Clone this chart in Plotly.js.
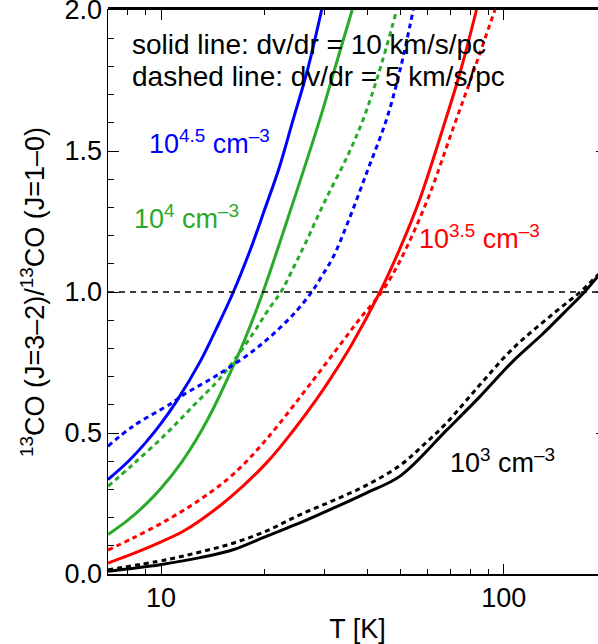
<!DOCTYPE html>
<html>
<head>
<meta charset="utf-8">
<script src="https://cdn.plot.ly/plotly-3.0.1.min.js"></script>
<style>
html,body{margin:0;padding:0;overflow:hidden;background:#fff;}
#chart{width:620px;height:644px;}
</style>
</head>
<body>
<div id="chart"></div>
<script>
// ---- data ----
// n = 10^4.5 cm^-3
const T_b10 = [7, 8, 9, 10, 11.1, 13, 14.5, 16.25, 18.2, 20.1, 22.1, 24.2, 26.7, 29.4];
const V_b10 = [0.335, 0.398, 0.465, 0.534, 0.613, 0.753, 0.87, 1.0, 1.149, 1.296, 1.44, 1.605, 1.784, 2.0];
const T_b5  = [7, 8.3, 10.7, 11.6, 13.9, 15.7, 18.5, 21.2, 24.5, 27.5, 29.5, 31.8, 35.2, 40, 45.5, 50, 54.4];
const V_b5  = [0.453, 0.525, 0.605, 0.635, 0.69, 0.73, 0.79, 0.85, 0.925, 1.0, 1.058, 1.125, 1.252, 1.43, 1.613, 1.796, 2.0];
// n = 10^4 cm^-3
const T_g10 = [7, 8, 9, 10, 11.5, 13, 14.3, 15.7, 17.5, 19.7, 24, 29.1, 32.5, 36.1];
const V_g10 = [0.14, 0.191, 0.246, 0.304, 0.398, 0.50, 0.594, 0.698, 0.828, 0.99, 1.30, 1.615, 1.813, 2.0];
const T_g5  = [7, 8.3, 10.4, 12.5, 14.5, 15.7, 18.6, 20.5, 22.5, 24.3, 26.3, 30, 35.2, 38.9, 43, 48.7];
const V_g5  = [0.311, 0.39, 0.5, 0.6, 0.68, 0.73, 0.855, 0.935, 1.005, 1.085, 1.17, 1.32, 1.489, 1.613, 1.77, 2.0];
// n = 10^3.5 cm^-3
const T_r10 = [7, 8, 9, 10, 11.5, 13, 16, 20.3, 24, 28.4, 31.1, 36, 43.5, 50, 56.9, 66.4, 75, 83.2];
const V_r10 = [0.039, 0.065, 0.09, 0.114, 0.149, 0.19, 0.274, 0.394, 0.50, 0.619, 0.69, 0.814, 1.0, 1.16, 1.33, 1.58, 1.79, 2.0];
const T_r5  = [7, 8.3, 10.4, 13, 16.25, 20.3, 27.8, 33, 38, 44, 50, 60, 71.1, 82, 94.2];
const V_r5  = [0.085, 0.128, 0.191, 0.264, 0.354, 0.478, 0.688, 0.807, 0.905, 1.0, 1.115, 1.33, 1.58, 1.79, 2.0];
// n = 10^3 cm^-3
const T_k10 = [7, 9.93, 13, 16.3, 20.5, 25.4, 32, 39.8, 49.8, 68.1, 85, 106.4, 130, 150, 172, 188, 200];
const V_k10 = [0.01, 0.033, 0.058, 0.087, 0.136, 0.181, 0.235, 0.288, 0.347, 0.51, 0.628, 0.755, 0.852, 0.927, 1.0, 1.055, 1.09];
const T_k5  = [7, 10.4, 13, 16.3, 20.5, 25.4, 32, 39.8, 49.8, 58, 68.1, 85, 106.4, 140, 170, 186, 200];
const V_k5  = [0.015, 0.051, 0.078, 0.11, 0.155, 0.21, 0.262, 0.315, 0.385, 0.455, 0.536, 0.67, 0.80, 0.925, 1.008, 1.055, 1.09];

const refT = [7, 200];
const refV = [1.0, 1.0];
const xMajorTicks = [10, 100];
const xMajorLabels = ['10', '100'];
const xMinorTicks = [7, 8, 9, 20, 30, 40, 50, 60, 70, 80, 90, 200];

const textNote1 = 'solid line: dv/dr = 10 km/s/pc';
const textNote2 = 'dashed line: dv/dr = 5 km/s/pc';
const lab45 = '10<sup>4.5</sup> cm<sup>–3</sup>';
const lab40 = '10<sup>4</sup> cm<sup>–3</sup>';
const lab35 = '10<sup>3.5</sup> cm<sup>–3</sup>';
const lab30 = '10<sup>3</sup> cm<sup>–3</sup>';

const BLUE = '#0000ff', GREEN = '#2aaa2a', RED = '#ff0000', BLACK = '#000000';
const FONT = 'Liberation Sans, Arial, Helvetica, sans-serif';
const DASH = '5px,4px';

function tr(x, y, color, dashed) {
  return {x: x, y: y, type: 'scatter', mode: 'lines',
    line: {color: color, width: 3, dash: dashed ? DASH : 'solid', shape: 'spline', smoothing: 1},
    hoverinfo: 'skip', showlegend: false};
}

const data = [
  tr(T_k10, V_k10, BLACK, false), tr(T_k5, V_k5, BLACK, true),
  tr(T_r10, V_r10, RED, false), tr(T_r5, V_r5, RED, true),
  tr(T_g10, V_g10, GREEN, false), tr(T_g5, V_g5, GREEN, true),
  tr(T_b10, V_b10, BLUE, false), tr(T_b5, V_b5, BLUE, true),
  {x: refT, y: refV, type: 'scatter', mode: 'lines',
   line: {color: '#000', width: 1.3, dash: '6px,5px'}, hoverinfo: 'skip', showlegend: false}
];

const xRange = [Math.log10(7), Math.log10(200)];
const yRange = [0, 2.0];
const tickFont = {family: FONT, size: 27, color: '#000'};

const layout = {
  width: 620, height: 644,
  margin: {l: 108, r: 12.6, t: 10, b: 70},
  paper_bgcolor: '#fff', plot_bgcolor: '#fff',
  font: {family: FONT, color: '#000'},
  xaxis: {
    type: 'log', range: xRange, showgrid: false, zeroline: false,
    showline: true, mirror: 'ticks', linecolor: '#000', linewidth: 1.5,
    ticks: 'inside', tickcolor: '#000', tickwidth: 1,
    tickmode: 'array', tickvals: xMajorTicks, ticktext: xMajorLabels, ticklen: 10,
    tickfont: tickFont, ticklabelstandoff: -1,
    minor: {tickmode: 'array', tickvals: xMinorTicks, ticks: 'inside', ticklen: 5, tickcolor: '#000', tickwidth: 1},
    title: {text: 'T [K]', font: {family: FONT, size: 27, color: '#000'}, standoff: 12}
  },
  yaxis: {
    range: yRange, showgrid: false, zeroline: false,
    showline: true, mirror: 'ticks', linecolor: '#000', linewidth: 1.5,
    ticks: 'inside', tickcolor: '#000', tickwidth: 1,
    dtick: 0.5, tick0: 0, tickformat: '.1f', ticklen: 11,
    tickfont: tickFont, ticklabelstandoff: -1, ticklabeloverflow: 'allow',
    minor: {dtick: 0.1, ticks: 'inside', ticklen: 6, tickcolor: '#000', tickwidth: 1},
    title: {text: '<sup>13</sup>CO (J=3–2)/<sup>13</sup>CO (J=1–0)', font: {family: FONT, size: 27, color: '#000'}, standoff: 12}
  },
  shapes: [
    {type: 'line', xref: 'paper', yref: 'paper', x0: 0, x1: 1, y0: 1.0035, y1: 1.0035, line: {color: '#000', width: 2}, layer: 'above'}
  ],
  annotations: [
    {xref: 'paper', yref: 'paper', x: 0.044, y: 0.9396, xanchor: 'left', yanchor: 'middle', text: textNote1, showarrow: false, font: {family: FONT, size: 28, color: BLACK}},
    {xref: 'paper', yref: 'paper', x: 0.044, y: 0.8828, xanchor: 'left', yanchor: 'middle', text: textNote2, showarrow: false, font: {family: FONT, size: 28, color: BLACK}},
    {xref: 'paper', yref: 'paper', x: 0.078, y: 0.7655, xanchor: 'left', yanchor: 'middle', text: lab45, showarrow: false, font: {family: FONT, size: 27, color: BLUE}},
    {xref: 'paper', yref: 'paper', x: 0.0475, y: 0.6323, xanchor: 'left', yanchor: 'middle', text: lab40, showarrow: false, font: {family: FONT, size: 27, color: GREEN}},
    {xref: 'paper', yref: 'paper', x: 0.6187, y: 0.5968, xanchor: 'left', yanchor: 'middle', text: lab35, showarrow: false, font: {family: FONT, size: 27, color: RED}},
    {xref: 'paper', yref: 'paper', x: 0.681, y: 0.2007, xanchor: 'left', yanchor: 'middle', text: lab30, showarrow: false, font: {family: FONT, size: 27, color: BLACK}}
  ]
};

Plotly.newPlot('chart', data, layout, {displayModeBar: false, staticPlot: true});
</script>
</body>
</html>
